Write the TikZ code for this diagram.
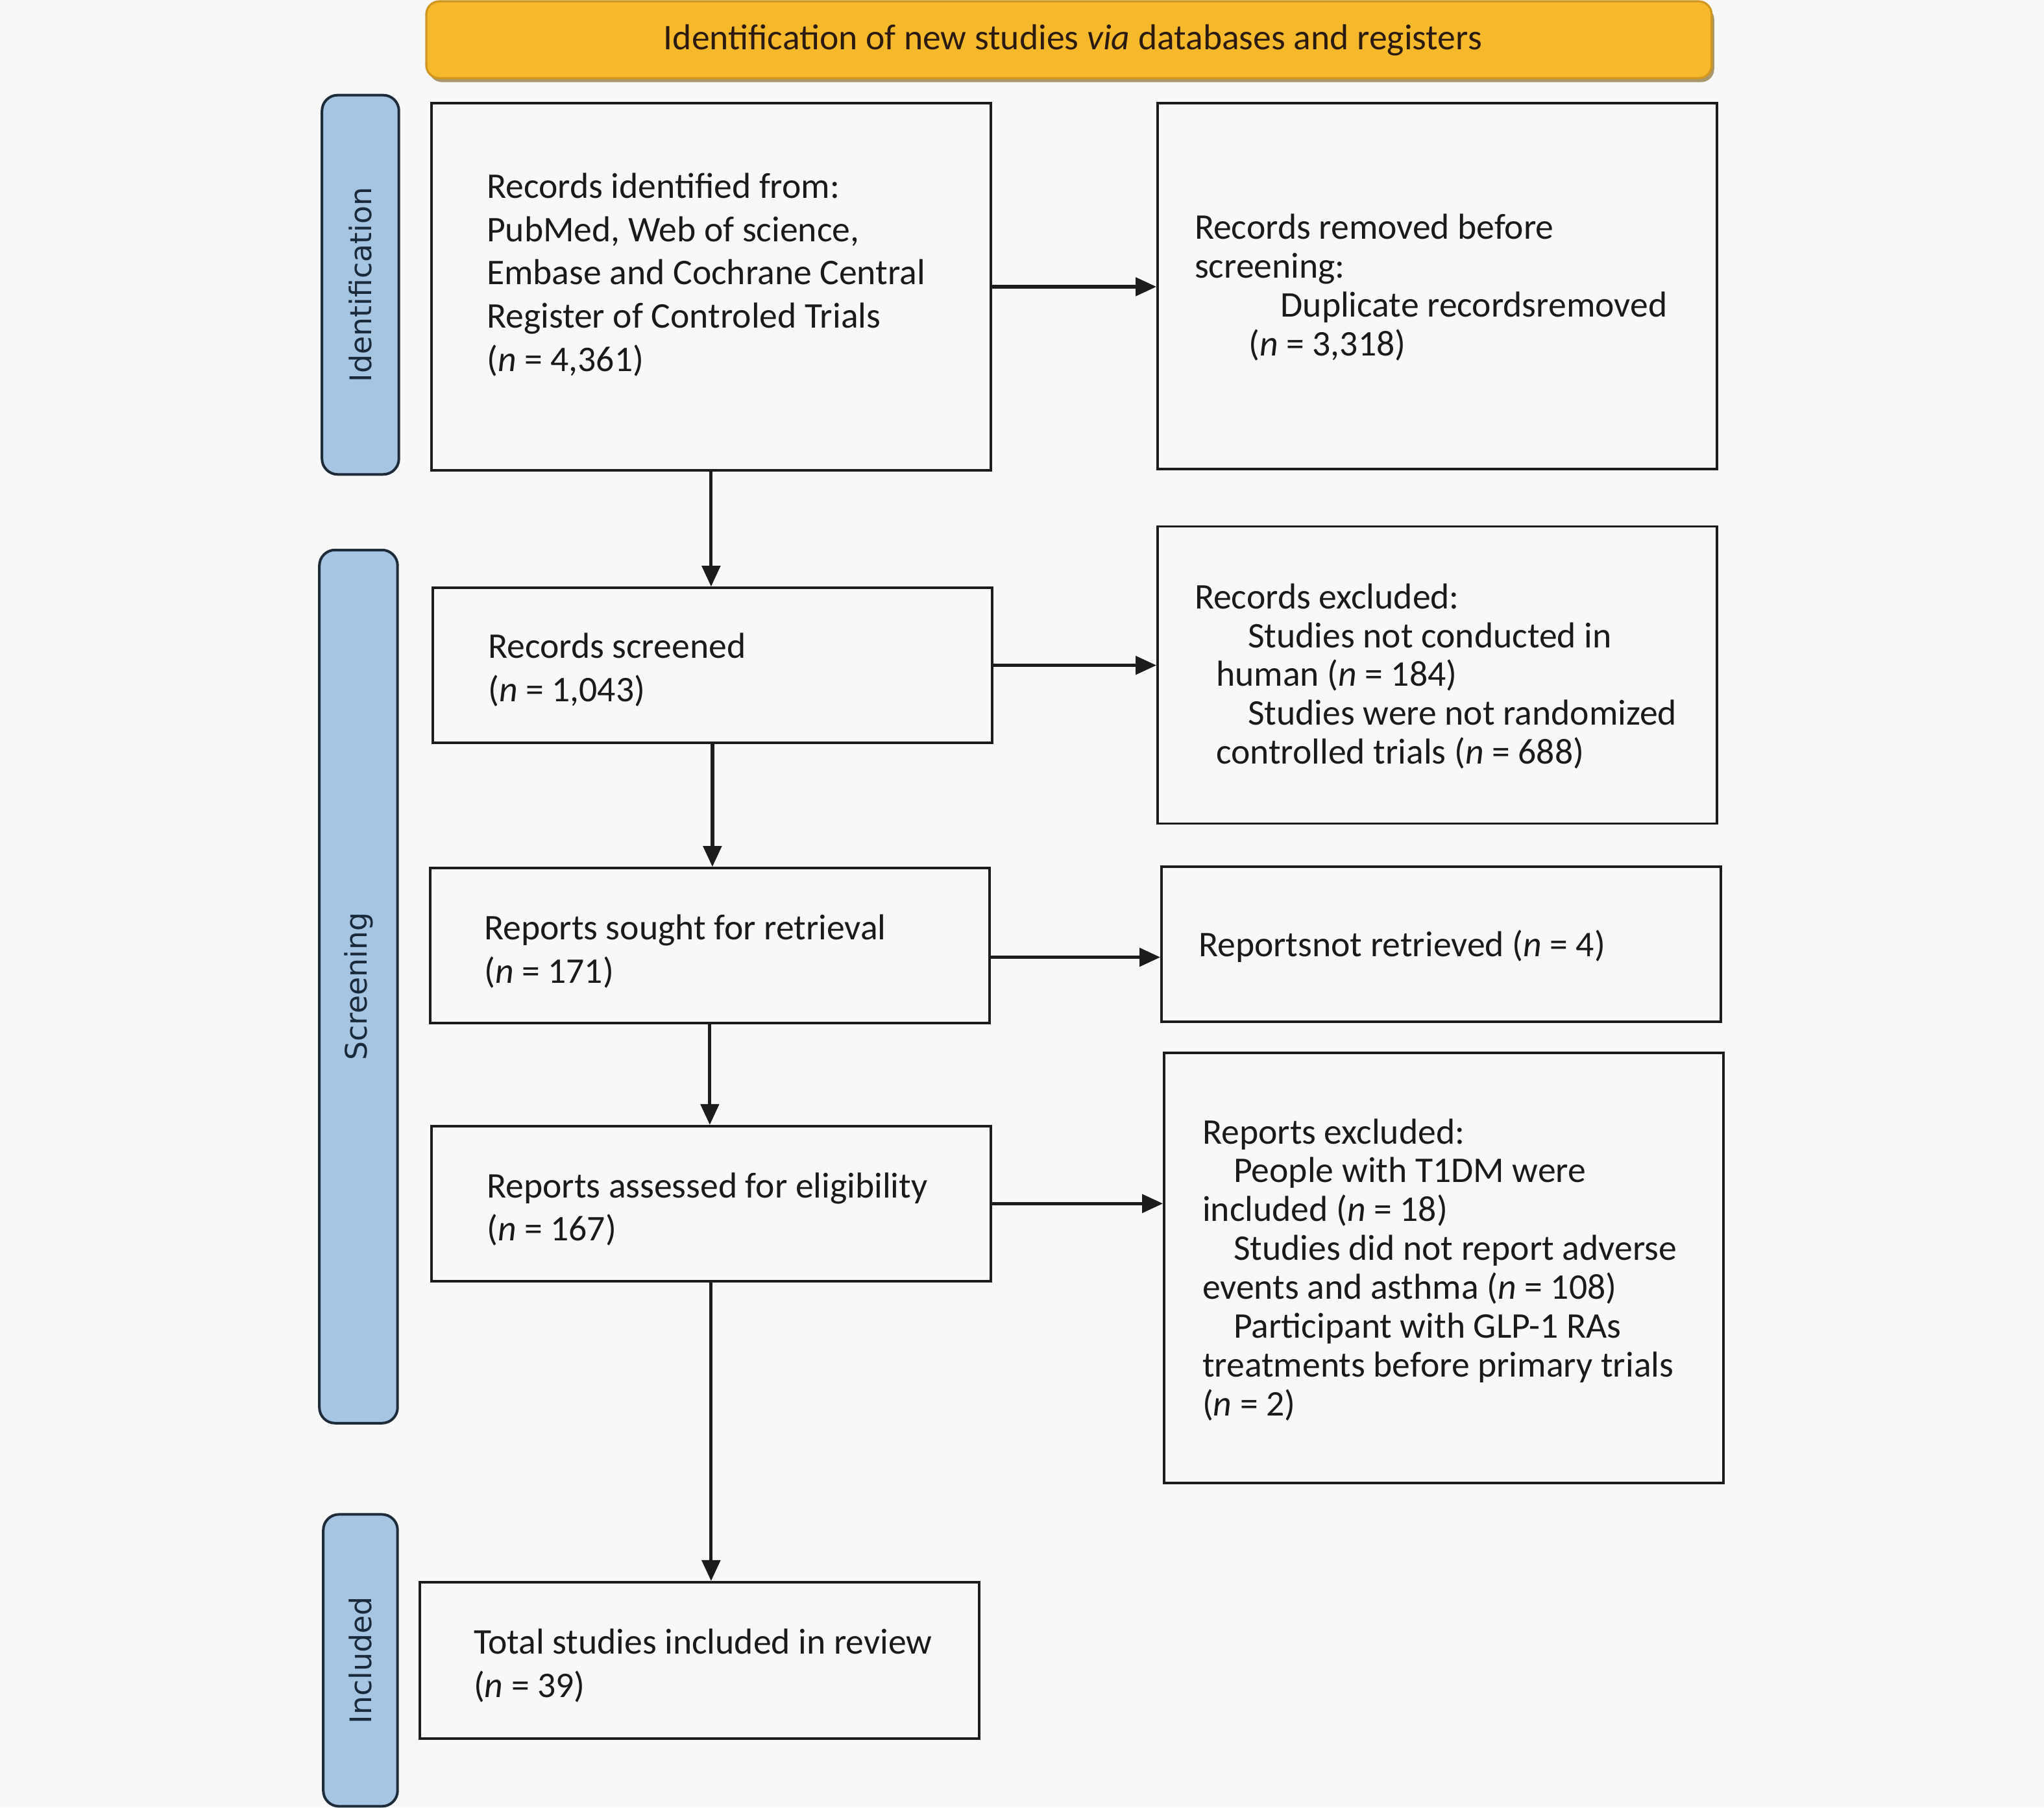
\documentclass[tikz,border=0pt]{standalone}
\usepackage{fontspec}
\setmainfont{Carlito}
\newfontfamily\sidefont{DejaVu Sans}
\usetikzlibrary{arrows.meta,calc}
\definecolor{bgc}{HTML}{F8F8F8}
\definecolor{hdrfill}{HTML}{F6B92B}
\definecolor{hdrdraw}{HTML}{D0961E}
\definecolor{hdrshadow}{HTML}{A8976A}
\definecolor{hdrtext}{HTML}{2B1B0E}
\definecolor{sidefill}{HTML}{A5C5E3}
\definecolor{sidedraw}{HTML}{1E2C3A}
\definecolor{sidetext}{HTML}{1B2A3A}
\definecolor{boxdraw}{HTML}{1C1C1C}
\definecolor{txtc}{HTML}{1A1A1A}
\newcommand{\myn}{\textit{n}}
\begin{document}
\begin{tikzpicture}[x=0.5pt,y=-0.5pt,
  box/.style={draw=boxdraw, line width=0.9pt, fill=bgc, inner sep=0pt, minimum width=214.5pt},
  side/.style={draw=sidedraw, line width=1pt, fill=sidefill, rounded corners=6pt, rotate=90, inner sep=0pt,
    font=\sidefont\fontsize{11.4}{13}\selectfont, text=sidetext},
  txt/.style={anchor=base west, inner sep=0pt, font=\fontsize{13.85}{16.6}\selectfont, text=txtc},
  rtxt/.style={anchor=base west, inner sep=0pt, font=\fontsize{13.85}{14.9}\selectfont, text=txtc},
  arr/.style={draw=boxdraw, line width=1.3pt, -{Triangle[length=8pt,width=7pt]}}
]
\fill[bgc] (0,0) rectangle (1568,1387);
\useasboundingbox (0,0) rectangle (1568,1387);

% header
\fill[hdrshadow, rounded corners=5pt] (329,5) rectangle (1315,63);
\node[draw=hdrdraw, line width=0.8pt, fill=hdrfill, rounded corners=5pt, minimum width=493pt, minimum height=29.5pt,
  inner sep=0pt, font=\fontsize{13.8}{16}\selectfont, text=hdrtext] (hdr) at (820,30.5) {};
\node[font=\fontsize{13.85}{16}\selectfont, text=hdrtext, inner sep=0pt, anchor=base] (hdrt) at (823,38)
  {Identification of new studies \textit{via} databases and registers};

% side labels
\node[side, minimum width=145.5pt, minimum height=29.5pt] (sid) at (276.5,218.5) {Identification};
\node[side, minimum width=335pt, minimum height=30pt] (sscr) at (275,757) {Screening};
\node[side, minimum width=112pt, minimum height=28.5pt] (sinc) at (276.5,1274) {Included};

% left column boxes
\node[box, minimum height=141pt] (B1) at (545.5,220) {};
\node[box, minimum height=59.5pt] (B2) at (546.5,510.5) {};
\node[box, minimum height=59.5pt] (B3) at (544.5,725.5) {};
\node[box, minimum height=59.5pt] (B4) at (545.5,923.5) {};
\node[box, minimum height=60pt] (B5) at (536.5,1274) {};

% right column boxes
\node[box, minimum height=140.5pt] (R1) at (1102.5,219.5) {};
\node[box, minimum height=114pt] (R2) at (1102.5,518) {};
\node[box, minimum height=59.5pt] (R3) at (1105.5,724.5) {};
\node[box, minimum height=165pt] (R4) at (1107.5,973) {};

% texts
\node[txt] (B1t) at (373,152) {\begin{tabular}[t]{@{}l@{}}Records identified from:\\
PubMed, Web of science,\\ Embase and Cochrane Central\\ Register of Controled Trials\\ (\myn{} = 4,361)\end{tabular}};
\node[txt] (B2t) at (374,505) {\begin{tabular}[t]{@{}l@{}}Records screened\\ (\myn{} = 1,043)\end{tabular}};
\node[txt] (B3t) at (371,721) {\begin{tabular}[t]{@{}l@{}}Reports sought for retrieval\\ (\myn{} = 171)\end{tabular}};
\node[txt] (B4t) at (373,919) {\begin{tabular}[t]{@{}l@{}}Reports assessed for eligibility\\ (\myn{} = 167)\end{tabular}};
\node[txt] (B5t) at (363,1269) {\begin{tabular}[t]{@{}l@{}}Total studies included in review\\ (\myn{} = 39)\end{tabular}};

\node[rtxt] (R1t) at (916,183.4) {\begin{tabular}[t]{@{}l@{}}Records removed before\\ screening:\\
\hspace*{33pt}Duplicate recordsremoved\\ \hspace*{20.75pt}(\myn{} = 3,318)\end{tabular}};
\node[rtxt] (R2t) at (916,467) {\begin{tabular}[t]{@{}l@{}}Records excluded:\\
\hspace*{20.5pt}Studies not conducted in\\ \hspace*{8.25pt}human (\myn{} = 184)\\
\hspace*{20.5pt}Studies were not randomized\\ \hspace*{8.25pt}controlled trials (\myn{} = 688)\end{tabular}};
\node[rtxt] (R3t) at (919,734) {Reportsnot retrieved (\myn{} = 4)};
\node[rtxt] (R4t) at (922,877.6) {\begin{tabular}[t]{@{}l@{}}Reports excluded:\\
\hspace*{12pt}People with T1DM were\\ included (\myn{} = 18)\\
\hspace*{12pt}Studies did not report adverse\\ events and asthma (\myn{} = 108)\\
\hspace*{12pt}Participant with GLP-1 RAs\\ treatments before primary trials\\ (\myn{} = 2)\end{tabular}};

% connectors
\draw[arr] (B1.east) -- (B1.east -| R1.west);
\draw[arr] (B2.east) -- (B2.east -| R2.west);
\coordinate (a3) at ([yshift=-4.5pt]B3.east);
\draw[arr] (a3) -- (a3 -| R3.west);
\draw[arr] (B4.east) -- (B4.east -| R4.west);
\draw[arr] (B1.south) -- (B1.south |- B2.north);
\draw[arr] (B2.south) -- (B2.south |- B3.north);
\draw[arr] (B3.south) -- (B3.south |- B4.north);
\draw[arr] (B4.south) -- (B4.south |- B5.north);
\end{tikzpicture}
\end{document}
